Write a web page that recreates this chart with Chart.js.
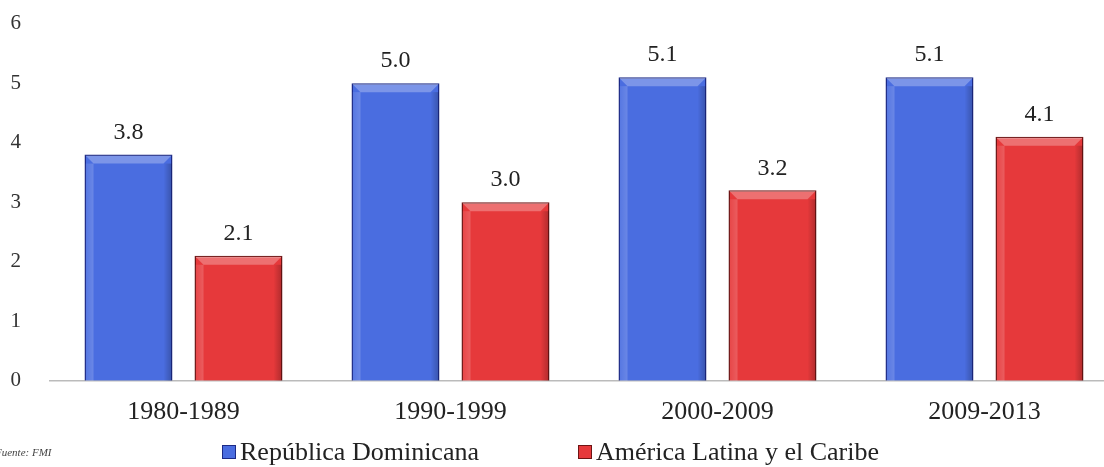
<!DOCTYPE html>
<html>
<head>
<meta charset="utf-8">
<script src="https://cdn.jsdelivr.net/npm/chart.js@4"></script>
<style>
  html, body { margin: 0; padding: 0; background: #fff; }
  #wrap { position: relative; width: 1104px; height: 467px; overflow: hidden; }
  #c { position: absolute; left: 0; top: -18px; }
  #source { position: absolute; left: -5px; top: 446px; font: italic 11px "Liberation Serif", serif; color: #444; }
  #legend { position: absolute; top: 434px; left: 0; width: 1104px; height: 36px; font: 26px "Liberation Serif", serif; color: #222; }
  #legend .item { position: absolute; top: 0; white-space: nowrap; line-height: 36px; }
  #legend .box { display: inline-block; width: 12px; height: 12px; margin-right: 4px; vertical-align: 1px; }
</style>
</head>
<body>
<div id="wrap">
  <canvas id="c" width="1118" height="485"></canvas>
  <div id="legend"></div>
  <div id="source">Fuente: FMI</div>
</div>
<script>
/* ── data ─────────────────────────────────────────── */
const PERIODS = ["1980-1989", "1990-1999", "2000-2009", "2009-2013"];
const SERIES  = ["República Dominicana", "América Latina y el Caribe"];
const REP_DOM = [3.8, 5.0, 5.1, 5.1];
const LATAM   = [2.1, 3.0, 3.2, 4.1];
const Y_TICKS = [0, 1, 2, 3, 4, 5, 6];

const SERIF = '"Liberation Serif", "DejaVu Serif", serif';
const FILL   = ["#4a6de0", "#e6393b"];
const BORDER = ["#1c2a86", "#6e1414"];

/* value labels above each bar */
const valueLabels = {
  id: "valueLabels",
  afterDatasetsDraw(chart) {
    const ctx = chart.ctx;
    ctx.save();
    ctx.font = "24px " + SERIF;
    ctx.fillStyle = "#222";
    ctx.textAlign = "center";
    ctx.textBaseline = "bottom";
    chart.data.datasets.forEach((ds, i) => {
      chart.getDatasetMeta(i).data.forEach((bar, j) => {
        ctx.fillText(ds.data[j].toFixed(1), bar.x, bar.y - 10);
      });
    });
    ctx.restore();
  },
};

/* soft bevel on the bars */
const bevel = {
  id: "bevel",
  afterDatasetsDraw(chart) {
    const ctx = chart.ctx;
    ctx.save();
    chart.data.datasets.forEach((ds, i) => {
      chart.getDatasetMeta(i).data.forEach((bar) => {
        const l = bar.x - bar.width / 2, r = bar.x + bar.width / 2;
        const t = bar.y, b = bar.base, e = 9;
        ctx.fillStyle = "rgba(255,255,255,0.28)";
        ctx.beginPath();
        ctx.moveTo(l + 1, t + 1); ctx.lineTo(r - 1, t + 1);
        ctx.lineTo(r - e, t + e); ctx.lineTo(l + e, t + e);
        ctx.closePath(); ctx.fill();
        let g = ctx.createLinearGradient(l, 0, l + e, 0);
        g.addColorStop(0, "rgba(255,255,255,0.05)");
        g.addColorStop(1, "rgba(255,255,255,0.18)");
        ctx.fillStyle = g;
        ctx.fillRect(l + 1, t + e, e - 1, b - t - e);
        g = ctx.createLinearGradient(r - e, 0, r, 0);
        g.addColorStop(0, "rgba(0,0,0,0)");
        g.addColorStop(1, "rgba(0,0,0,0.25)");
        ctx.fillStyle = g;
        ctx.fillRect(r - e, t + e, e - 1, b - t - e);
      });
    });
    ctx.restore();
  },
};

const chart = new Chart(document.getElementById("c"), {
  type: "bar",
  data: {
    labels: PERIODS,
    datasets: [
      { label: SERIES[0], data: REP_DOM, backgroundColor: FILL[0], borderColor: BORDER[0], borderWidth: 1.5 },
      { label: SERIES[1], data: LATAM,   backgroundColor: FILL[1], borderColor: BORDER[1], borderWidth: 1.5 },
    ],
  },
  options: {
    responsive: false,
    animation: false,
    layout: { padding: { left: 0, right: 0, top: 0, bottom: 23 } },
    datasets: { bar: { categoryPercentage: 0.824, barPercentage: 0.8 } },
    plugins: { legend: { display: false }, tooltip: { enabled: false } },
    scales: {
      x: {
        grid: { display: false, drawTicks: false },
        border: { display: true, color: "#bbb", width: 1.5 },
        ticks: { font: { family: SERIF, size: 26 }, color: "#222", padding: 16 },
      },
      y: {
        min: 0,
        max: 6,
        afterBuildTicks: (axis) => { axis.ticks = Y_TICKS.map((v) => ({ value: v })); },
        afterFit: (axis) => { axis.width = 50; },
        grid: { display: false, drawTicks: false },
        border: { display: false },
        ticks: { font: { family: SERIF, size: 21 }, color: "#333", padding: 29 },
      },
    },
  },
  plugins: [valueLabels, bevel],
});

/* legend as real text below the chart */
const LEGEND_X = [222, 578];
const legendEl = document.getElementById("legend");
SERIES.forEach((name, i) => {
  const item = document.createElement("span");
  item.className = "item";
  item.style.left = LEGEND_X[i] + "px";
  item.innerHTML = `<span class="box" style="background:${FILL[i]};border:1px solid ${BORDER[i]}"></span>${name}`;
  legendEl.appendChild(item);
});
</script>
</body>
</html>
